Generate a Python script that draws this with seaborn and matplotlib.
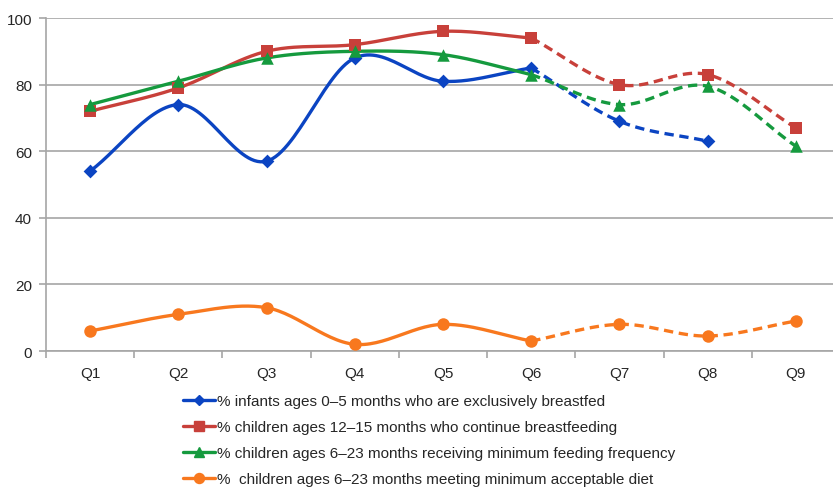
import numpy as np
import pandas as pd
import matplotlib
matplotlib.use('Agg')
import matplotlib.pyplot as plt
import seaborn as sns
from matplotlib.lines import Line2D

quarters = ['Q1', 'Q2', 'Q3', 'Q4', 'Q5', 'Q6', 'Q7', 'Q8', 'Q9']

# values (None = no data)
excl_bf = [54, 74, 57, 88, 81, 85, 69, 63, None]
cont_bf = [72, 79, 90, 92, 96, 94, 80, 83, 67]
min_freq = [74, 81, 88, 90, 89, 83, 74, 79.5, 61.5]
min_diet = [6, 11, 13, 2, 8, 3, 8, 4.5, 9]

labels = ['% infants ages 0\u20135 months who are exclusively breastfed',
          '% children ages 12\u201315 months who continue breastfeeding',
          '% children ages 6\u201323 months receiving minimum feeding frequency',
          '%  children ages 6\u201323 months meeting minimum acceptable diet']
colors = ['#0b44c2', '#c8403a', '#159a3e', '#f8781e']
markers = ['D', 's', '^', 'o']
msizes = [7, 9, 9, 9]

# last quarter of the solid part, the rest is dashed
split = 5


def smooth(xs, ys, n=30):
    # Catmull-Rom style smoothing like Excel's "smoothed line"
    xs = np.asarray(xs, float)
    ys = np.asarray(ys, float)
    px = np.concatenate([[2 * xs[0] - xs[1]], xs, [2 * xs[-1] - xs[-2]]])
    py = np.concatenate([[2 * ys[0] - ys[1]], ys, [2 * ys[-1] - ys[-2]]])
    out_x, out_y = [], []
    for i in range(1, len(px) - 2):
        p0, p1, p2, p3 = [np.array([px[j], py[j]]) for j in (i - 1, i, i + 1, i + 2)]
        c1 = p1 + (p2 - p0) / 6
        c2 = p2 - (p3 - p1) / 6
        t = np.linspace(0, 1, n)[:, None]
        b = ((1 - t) ** 3) * p1 + 3 * ((1 - t) ** 2) * t * c1 + 3 * (1 - t) * t ** 2 * c2 + t ** 3 * p2
        out_x.extend(b[:, 0])
        out_y.extend(b[:, 1])
    return out_x, out_y


sns.set_theme(style='white')
plt.rcParams['font.family'] = ['Liberation Sans', 'DejaVu Sans']

fig = plt.figure(figsize=(8.33, 4.89), dpi=100)
# plot area runs a little past the right edge of the picture (as in the reference)
ax = fig.add_axes([46 / 833, 1 - 352 / 489, (840 - 46) / 833, (352 - 19) / 489])

series = [excl_bf, cont_bf, min_freq, min_diet]
for vals, col, mk, ms in zip(series, colors, markers, msizes):
    x = [i for i, v in enumerate(vals) if v is not None]
    y = [v for v in vals if v is not None]
    x1, y1 = x[:split + 1], y[:split + 1]
    x2, y2 = x[split:], y[split:]
    sx, sy = smooth(x1, y1)
    ax.plot(sx, sy, color=col, lw=2.4, solid_capstyle='round', zorder=3)
    if len(x2) > 1:
        sx, sy = smooth(x2, y2)
        ax.plot(sx, sy, color=col, lw=2.4, ls=(0, (2.8, 1.7)), zorder=3)
    df = pd.DataFrame({'x': x, 'y': y})
    sns.scatterplot(data=df, x='x', y='y', marker=mk, s=ms ** 2, color=col,
                    edgecolor=col, linewidth=0, ax=ax, zorder=4, legend=False)

ax.set_xlim(-0.5, len(quarters) - 0.5)
ax.set_ylim(0, 100)
ax.set_yticks([0, 20, 40, 60, 80, 100])
ax.set_xticks(range(len(quarters)))
ax.set_xticklabels(quarters)
ax.set_xticks(np.arange(-0.5, len(quarters), 1), minor=True)
ax.set_xlabel('')
ax.set_ylabel('')
ax.yaxis.grid(True, color='#a6a6a6', lw=1.2)
ax.set_axisbelow(True)
for s in ['top', 'right']:
    ax.spines[s].set_visible(False)
for s in ['left', 'bottom']:
    ax.spines[s].set_color('#a6a6a6')
    ax.spines[s].set_linewidth(1.2)
ax.tick_params(axis='y', which='major', length=5, color='#a6a6a6', width=1.2,
               labelsize=11, pad=5, left=True)
ax.tick_params(axis='x', which='major', length=0, labelsize=11, pad=11)
ax.tick_params(axis='x', which='minor', length=5, color='#a6a6a6', width=1.2, bottom=True)

handles = [Line2D([0], [0], color=c, lw=2.4, marker=m, markersize=ms * 0.8)
           for c, m, ms in zip(colors, markers, msizes)]
fig.legend(handles, labels, loc='upper left', bbox_to_anchor=(183 / 833, 1 - 395 / 489),
           frameon=False, fontsize=11, handlelength=2.1, handletextpad=0.15,
           labelspacing=0.79, borderaxespad=0, borderpad=0)

fig.savefig('out.png', dpi=100)
